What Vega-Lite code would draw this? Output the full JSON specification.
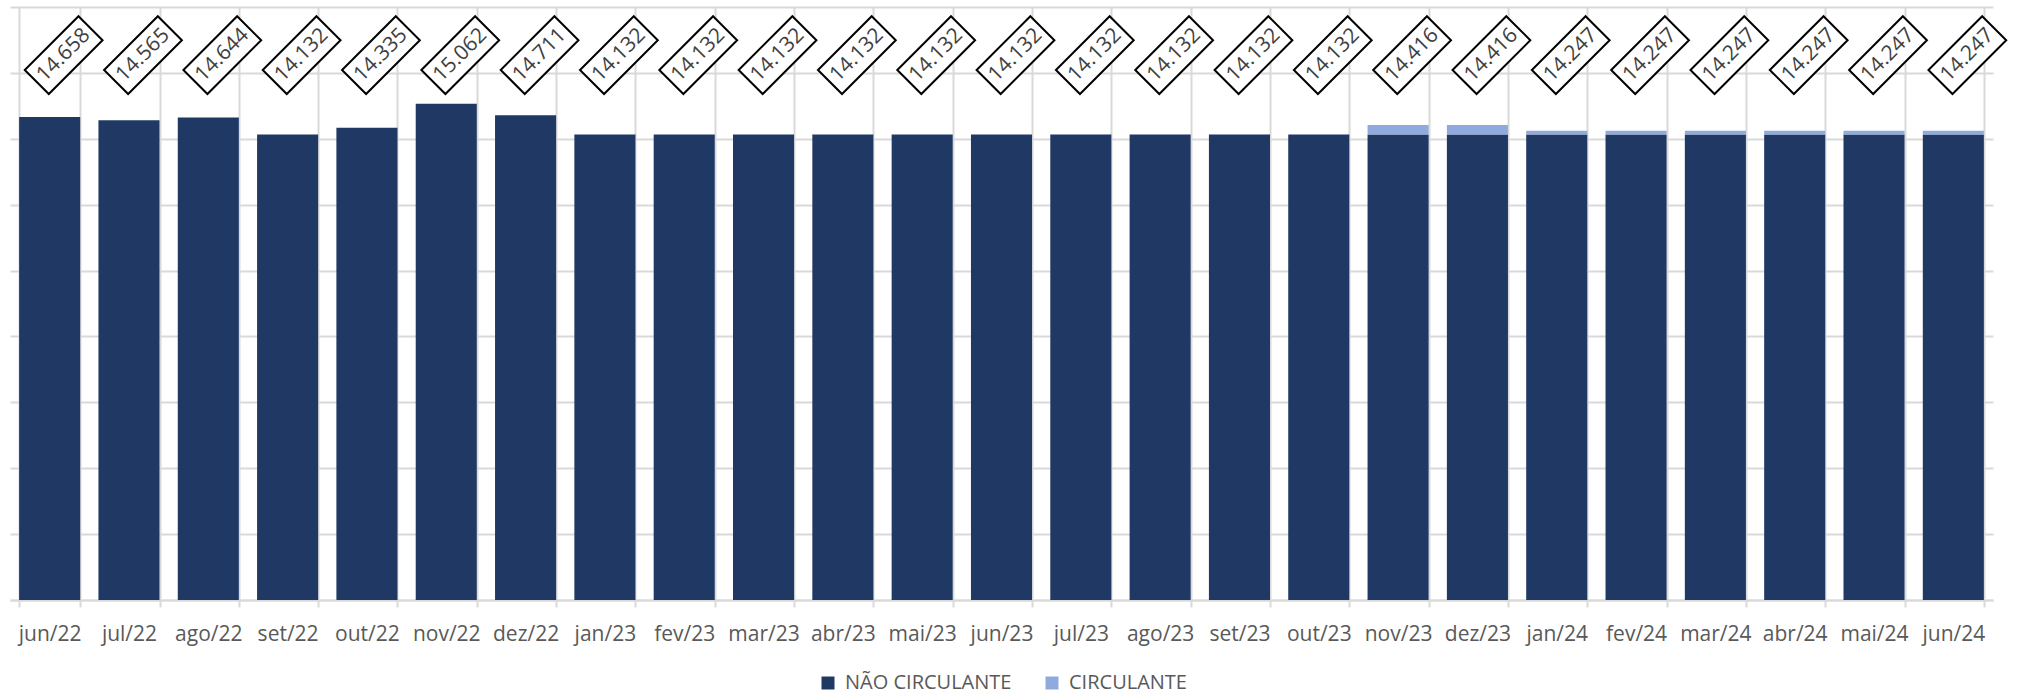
{
  "$schema": "https://vega.github.io/schema/vega-lite/v6.json",
  "width": 1983,
  "height": 593,
  "autosize": "none",
  "padding": {"left": 10, "top": 7, "right": 24, "bottom": 98},
  "background": "white",
  "config": {
    "view": {"stroke": null},
    "font": "Open Sans",
    "locale": {"number": {"decimal": ",", "thousands": ".", "grouping": [3], "currency": ["R$", ""]}}
  },
  "data": {
    "values": [
      {"mes": "jun/22", "serie": "NÃO CIRCULANTE", "valor": 14658},
      {"mes": "jun/22", "serie": "CIRCULANTE", "valor": 0},
      {"mes": "jul/22", "serie": "NÃO CIRCULANTE", "valor": 14565},
      {"mes": "jul/22", "serie": "CIRCULANTE", "valor": 0},
      {"mes": "ago/22", "serie": "NÃO CIRCULANTE", "valor": 14644},
      {"mes": "ago/22", "serie": "CIRCULANTE", "valor": 0},
      {"mes": "set/22", "serie": "NÃO CIRCULANTE", "valor": 14132},
      {"mes": "set/22", "serie": "CIRCULANTE", "valor": 0},
      {"mes": "out/22", "serie": "NÃO CIRCULANTE", "valor": 14335},
      {"mes": "out/22", "serie": "CIRCULANTE", "valor": 0},
      {"mes": "nov/22", "serie": "NÃO CIRCULANTE", "valor": 15062},
      {"mes": "nov/22", "serie": "CIRCULANTE", "valor": 0},
      {"mes": "dez/22", "serie": "NÃO CIRCULANTE", "valor": 14711},
      {"mes": "dez/22", "serie": "CIRCULANTE", "valor": 0},
      {"mes": "jan/23", "serie": "NÃO CIRCULANTE", "valor": 14132},
      {"mes": "jan/23", "serie": "CIRCULANTE", "valor": 0},
      {"mes": "fev/23", "serie": "NÃO CIRCULANTE", "valor": 14132},
      {"mes": "fev/23", "serie": "CIRCULANTE", "valor": 0},
      {"mes": "mar/23", "serie": "NÃO CIRCULANTE", "valor": 14132},
      {"mes": "mar/23", "serie": "CIRCULANTE", "valor": 0},
      {"mes": "abr/23", "serie": "NÃO CIRCULANTE", "valor": 14132},
      {"mes": "abr/23", "serie": "CIRCULANTE", "valor": 0},
      {"mes": "mai/23", "serie": "NÃO CIRCULANTE", "valor": 14132},
      {"mes": "mai/23", "serie": "CIRCULANTE", "valor": 0},
      {"mes": "jun/23", "serie": "NÃO CIRCULANTE", "valor": 14132},
      {"mes": "jun/23", "serie": "CIRCULANTE", "valor": 0},
      {"mes": "jul/23", "serie": "NÃO CIRCULANTE", "valor": 14132},
      {"mes": "jul/23", "serie": "CIRCULANTE", "valor": 0},
      {"mes": "ago/23", "serie": "NÃO CIRCULANTE", "valor": 14132},
      {"mes": "ago/23", "serie": "CIRCULANTE", "valor": 0},
      {"mes": "set/23", "serie": "NÃO CIRCULANTE", "valor": 14132},
      {"mes": "set/23", "serie": "CIRCULANTE", "valor": 0},
      {"mes": "out/23", "serie": "NÃO CIRCULANTE", "valor": 14132},
      {"mes": "out/23", "serie": "CIRCULANTE", "valor": 0},
      {"mes": "nov/23", "serie": "NÃO CIRCULANTE", "valor": 14132},
      {"mes": "nov/23", "serie": "CIRCULANTE", "valor": 284},
      {"mes": "dez/23", "serie": "NÃO CIRCULANTE", "valor": 14132},
      {"mes": "dez/23", "serie": "CIRCULANTE", "valor": 284},
      {"mes": "jan/24", "serie": "NÃO CIRCULANTE", "valor": 14132},
      {"mes": "jan/24", "serie": "CIRCULANTE", "valor": 115},
      {"mes": "fev/24", "serie": "NÃO CIRCULANTE", "valor": 14132},
      {"mes": "fev/24", "serie": "CIRCULANTE", "valor": 115},
      {"mes": "mar/24", "serie": "NÃO CIRCULANTE", "valor": 14132},
      {"mes": "mar/24", "serie": "CIRCULANTE", "valor": 115},
      {"mes": "abr/24", "serie": "NÃO CIRCULANTE", "valor": 14132},
      {"mes": "abr/24", "serie": "CIRCULANTE", "valor": 115},
      {"mes": "mai/24", "serie": "NÃO CIRCULANTE", "valor": 14132},
      {"mes": "mai/24", "serie": "CIRCULANTE", "valor": 115},
      {"mes": "jun/24", "serie": "NÃO CIRCULANTE", "valor": 14132},
      {"mes": "jun/24", "serie": "CIRCULANTE", "valor": 115}
    ]
  },
  "encoding": {
    "x": {
      "field": "mes",
      "type": "nominal",
      "sort": null,
      "title": null,
      "scale": {"paddingInner": 0.23, "paddingOuter": 0.115},
      "axis": {
        "labelAngle": 0,
        "labelFontSize": 21,
        "labelColor": "#595959",
        "labelPadding": 16,
        "tickBand": "extent",
        "tickSize": 7,
        "tickColor": "#D9D9D9",
        "tickWidth": 2,
        "grid": true,
        "gridColor": "#D9D9D9",
        "gridWidth": 2,
        "domainColor": "#D9D9D9",
        "domainWidth": 2
      }
    }
  },
  "layer": [
    {
      "mark": {"type": "bar"},
      "encoding": {
        "y": {
          "field": "valor",
          "type": "quantitative",
          "stack": "zero",
          "title": null,
          "scale": {"domain": [0, 18000], "nice": false},
          "axis": {
            "values": [0, 2000, 4000, 6000, 8000, 10000, 12000, 14000, 16000, 18000],
            "labels": false,
            "ticks": false,
            "domain": false,
            "grid": true,
            "gridColor": "#D9D9D9",
            "gridWidth": 2
          }
        },
        "color": {
          "field": "serie",
          "type": "nominal",
          "scale": {"domain": ["NÃO CIRCULANTE", "CIRCULANTE"], "range": ["#203864", "#8FAADC"]},
          "legend": {
            "title": null,
            "orient": "none",
            "direction": "horizontal",
            "legendX": 808,
            "legendY": 666,
            "symbolType": "square",
            "symbolSize": 169,
            "symbolStrokeWidth": 0,
            "symbolOpacity": 1,
            "labelFontSize": 20,
            "labelColor": "#595959",
            "labelOffset": 7,
            "labelLimit": 0,
            "columnPadding": 30
          }
        },
        "order": {"field": "serie", "sort": "descending"}
      }
    },
    {
      "transform": [{"aggregate": [{"op": "sum", "field": "valor", "as": "total"}], "groupby": ["mes"]}],
      "mark": {
        "type": "point",
        "shape": "M0.297,-0.778L0.778,-0.297L-0.297,0.778L-0.778,0.297Z",
        "size": 10000,
        "filled": false,
        "fill": "white",
        "fillOpacity": 1,
        "stroke": "black",
        "strokeWidth": 2,
        "opacity": 1,
        "xOffset": 14
      },
      "encoding": {
        "y": {"datum": 16540, "type": "quantitative"}
      }
    },
    {
      "transform": [{"aggregate": [{"op": "sum", "field": "valor", "as": "total"}], "groupby": ["mes"]}],
      "mark": {
        "type": "text",
        "angle": -45,
        "align": "center",
        "baseline": "middle",
        "fontSize": 21,
        "color": "#404040",
        "xOffset": 14
      },
      "encoding": {
        "y": {"datum": 16540, "type": "quantitative"},
        "text": {"field": "total", "type": "quantitative", "format": ",.0f"}
      }
    }
  ]
}
